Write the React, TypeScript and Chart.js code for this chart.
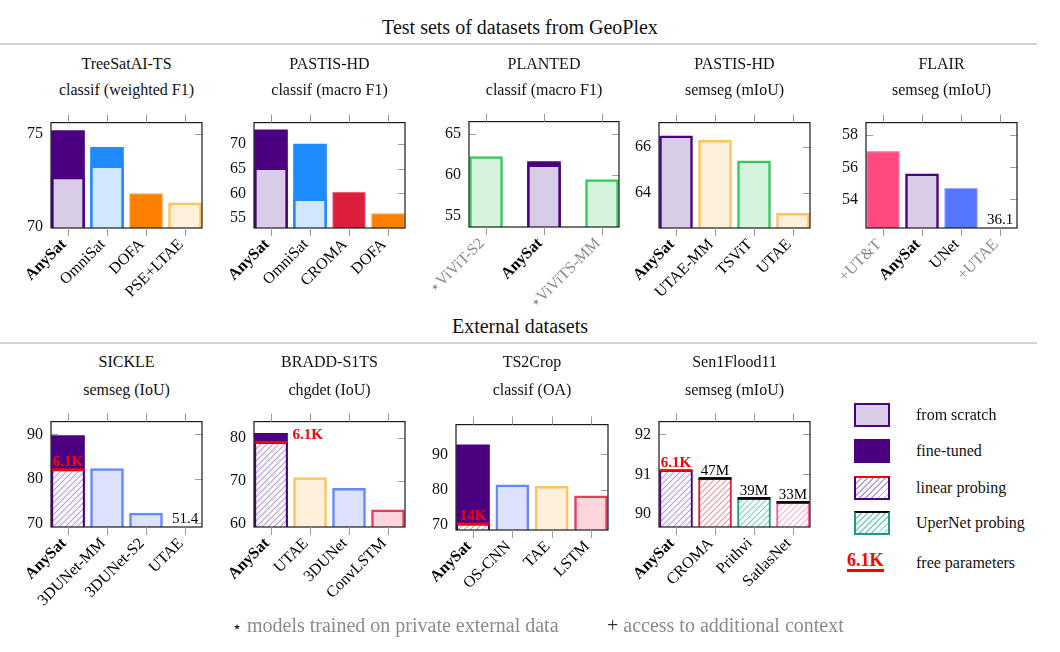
import React, { useEffect, useRef } from 'react';
import { Chart, registerables } from 'chart.js';

Chart.register(...registerables);

const SERIF = '"Liberation Serif", "Times New Roman", Times, serif';

// ---------------- data ----------------
// TreeSatAI-TS  classif (weighted F1)
const treeLabels = ['AnySat', 'OmniSat', 'DOFA', 'PSE+LTAE'];
const treeFineTuned = [75.2, 74.3, null, null];
const treeMain = [72.7, 73.3, 71.8, 71.3];
const treeTicks = [70, 75];
const treeRange = [69.95, 75.63];

// PASTIS-HD  classif (macro F1)
const pastisClsLabels = ['AnySat', 'OmniSat', 'CROMA', 'DOFA'];
const pastisClsFineTuned = [72.9, 70.0, null, null];
const pastisClsMain = [65.2, 58.9, 60.3, 55.9];
const pastisClsTicks = [55, 60, 65, 70];
const pastisClsRange = [53.0, 74.35];

// PLANTED  classif (macro F1)
const plantedLabels = ['⋆ViViT-S2', 'AnySat', '⋆ViViTS-MM'];
const plantedFineTuned = [null, 61.6, null];
const plantedMain = [62.2, 61.2, 59.4];
const plantedTicks = [55, 60, 65];
const plantedRange = [53.57, 66.5];

// PASTIS-HD  semseg (mIoU)
const pastisSegLabels = ['AnySat', 'UTAE-MM', 'TSViT', 'UTAE'];
const pastisSegMain = [66.5, 66.3, 65.4, 63.1];
const pastisSegTicks = [64, 66];
const pastisSegRange = [62.46, 67.08];

// FLAIR  semseg (mIoU)
const flairLabels = ['+UT&T', 'AnySat', 'UNet', '+UTAE'];
const flairMain = [57.0, 55.6, 54.7, 36.1];
const flairTicks = [54, 56, 58];
const flairRange = [52.22, 58.79];

// SICKLE  semseg (IoU)
const sickleLabels = ['AnySat', '3DUNet-MM', '3DUNet-S2', 'UTAE'];
const sickleFineTuned = [89.7, null, null, null];
const sickleMain = [82.1, 82.3, 72.3, 51.4];
const sickleParams = ['6.1K', null, null, null];
const sickleTicks = [70, 80, 90];
const sickleRange = [69.2, 92.85];

// BRADD-S1TS  chgdet (IoU)
const braddLabels = ['AnySat', 'UTAE', '3DUNet', 'ConvLSTM'];
const braddFineTuned = [81.0, null, null, null];
const braddMain = [78.9, 70.7, 68.2, 63.2];
const braddParams = ['6.1K', null, null, null];
const braddTicks = [60, 70, 80];
const braddRange = [59.2, 83.7];

// TS2Crop  classif (OA)
const ts2cropLabels = ['AnySat', 'OS-CNN', 'TAE', 'LSTM'];
const ts2cropFineTuned = [92.7, null, null, null];
const ts2cropMain = [70.4, 81.4, 81.0, 78.3];
const ts2cropParams = ['14K', null, null, null];
const ts2cropTicks = [70, 80, 90];
const ts2cropRange = [68.66, 98.4];

// Sen1Flood11  semseg (mIoU)
const floodLabels = ['AnySat', 'CROMA', 'Prithvi', 'SatlasNet'];
const floodMain = [91.1, 90.9, 90.4, 90.3];
const floodParams = ['6.1K', '47M', '39M', '33M'];
const floodTicks = [90, 91, 92];
const floodRange = [89.68, 92.32];

// ---------------- styles ----------------
const RED = '#FF0000';
const BAR_STYLES: Record<string, any> = {
  anyScratch: { fill: '#D9CCE6', border: '#4B0082', bw: 2.5 },
  anyFine: { fill: '#4B0082', border: '#4B0082', bw: 0 },
  anyLinear: { hatch: '#B69DE0', border: '#4B0082', bw: 2, top: RED },
  omniFine: { fill: '#1E8CFF', border: '#1E8CFF', bw: 0 },
  omniScratch: { fill: '#D1E7FD', border: '#1E8CFF', bw: 2.5 },
  dofa: { fill: '#FF7F00', border: '#FFA64D', bw: 1.2 },
  orangeLight: { fill: '#FFF0DB', border: '#FFC35C', bw: 2.5 },
  croma: { fill: '#DC1E3C', border: '#EA7A8C', bw: 1.2 },
  green: { fill: '#D5F4DC', border: '#35C95C', bw: 2.5 },
  utt: { fill: '#FF4A7E', border: '#FF8FB0', bw: 1.2 },
  unet: { fill: '#5577FF', border: '#99AAFF', bw: 1.2 },
  blueLight: { fill: '#DDE3FF', border: '#6688FF', bw: 2.5 },
  redLight: { fill: '#FFD6DE', border: '#EE3A57', bw: 2.5 },
  cromaLinear: { hatch: '#F596A3', border: '#DC1E3C', bw: 2, top: '#000000' },
  prithvi: { hatch: '#7FD3C6', border: '#1E9A86', bw: 2, top: '#000000' },
  satlas: { hatch: '#FFAFD4', border: '#FF5AA5', bw: 2, top: '#000000' },
};

// ---------------- panel layout ----------------
const ROW1_TITLE = [64, 90];
const ROW2_TITLE = [362, 389.5];

const PANELS = [
  { title: 'TreeSatAI-TS', sub: 'classif (weighted F1)', labels: treeLabels, main: treeMain, fine: treeFineTuned,
    ticks: treeTicks, range: treeRange, mainStyle: ['anyScratch', 'omniScratch', 'dofa', 'orangeLight'],
    fineStyle: ['anyFine', 'omniFine', null, null], box: [51, 117, 202, 228], titleY: ROW1_TITLE },
  { title: 'PASTIS-HD', sub: 'classif (macro F1)', labels: pastisClsLabels, main: pastisClsMain, fine: pastisClsFineTuned,
    ticks: pastisClsTicks, range: pastisClsRange, mainStyle: ['anyScratch', 'omniScratch', 'croma', 'dofa'],
    fineStyle: ['anyFine', 'omniFine', null, null], box: [254, 117, 405, 228], titleY: ROW1_TITLE },
  { title: 'PLANTED', sub: 'classif (macro F1)', labels: plantedLabels, main: plantedMain, fine: plantedFineTuned,
    ticks: plantedTicks, range: plantedRange, mainStyle: ['green', 'anyScratch', 'green'],
    fineStyle: [null, 'anyFine', null], box: [469, 116, 619, 227.3], titleY: ROW1_TITLE },
  { title: 'PASTIS-HD', sub: 'semseg (mIoU)', labels: pastisSegLabels, main: pastisSegMain,
    ticks: pastisSegTicks, range: pastisSegRange, mainStyle: ['anyScratch', 'orangeLight', 'green', 'orangeLight'],
    box: [659, 117.3, 810, 228.3], titleY: ROW1_TITLE },
  { title: 'FLAIR', sub: 'semseg (mIoU)', labels: flairLabels, main: flairMain,
    ticks: flairTicks, range: flairRange, mainStyle: ['utt', 'anyScratch', 'unet', 'orangeLight'],
    box: [866, 116.7, 1017, 227.7], titleY: ROW1_TITLE },
  { title: 'SICKLE', sub: 'semseg (IoU)', labels: sickleLabels, main: sickleMain, fine: sickleFineTuned, params: sickleParams,
    ticks: sickleTicks, range: sickleRange, mainStyle: ['anyLinear', 'blueLight', 'blueLight', 'orangeLight'],
    fineStyle: ['anyFine', null, null, null], box: [51, 416, 202, 526.7], titleY: ROW2_TITLE },
  { title: 'BRADD-S1TS', sub: 'chgdet (IoU)', labels: braddLabels, main: braddMain, fine: braddFineTuned, params: braddParams,
    paramsRight: true, ticks: braddTicks, range: braddRange, mainStyle: ['anyLinear', 'orangeLight', 'blueLight', 'redLight'],
    fineStyle: ['anyFine', null, null, null], box: [254, 416, 405, 526.7], titleY: ROW2_TITLE },
  { title: 'TS2Crop', sub: 'classif (OA)', labels: ts2cropLabels, main: ts2cropMain, fine: ts2cropFineTuned, params: ts2cropParams,
    ticks: ts2cropTicks, range: ts2cropRange, mainStyle: ['anyLinear', 'blueLight', 'orangeLight', 'redLight'],
    fineStyle: ['anyFine', null, null, null], box: [456, 418.7, 608, 529.3], titleY: ROW2_TITLE },
  { title: 'Sen1Flood11', sub: 'semseg (mIoU)', labels: floodLabels, main: floodMain, params: floodParams,
    ticks: floodTicks, range: floodRange, mainStyle: ['anyLinear', 'cromaLinear', 'prithvi', 'satlas'],
    box: [659, 416, 810, 526.7], titleY: ROW2_TITLE },
];

const PAD_L = 55, PAD_T = 12, PAD_R = 14, PAD_B = 92;
const EDGE_PX = 17;
const BAR_PX = 33;

function makeHatch(ctx: CanvasRenderingContext2D, color: string) {
  const c = document.createElement('canvas');
  c.width = 6; c.height = 6;
  const g = c.getContext('2d')!;
  g.fillStyle = '#ffffff';
  g.fillRect(0, 0, 6, 6);
  g.strokeStyle = color;
  g.lineWidth = 1.2;
  g.beginPath();
  g.moveTo(0, 6); g.lineTo(6, 0);
  g.moveTo(-1, 1); g.lineTo(1, -1);
  g.moveTo(5, 7); g.lineTo(7, 5);
  g.stroke();
  return ctx.createPattern(c, 'repeat');
}

function buildConfig(p: any, ctx: CanvasRenderingContext2D) {
  const n = p.labels.length;
  const boxW = p.box[2] - p.box[0];
  const spacing = (boxW - 2 * EDGE_PX) / (n - 1);
  const off = EDGE_PX / spacing;
  const fillOf = (k: string | null) => {
    if (!k) return 'rgba(0,0,0,0)';
    const s = BAR_STYLES[k];
    return s.hatch ? makeHatch(ctx, s.hatch) : s.fill;
  };
  const rows = (vals: any[]) => p.labels.map((_: string, i: number) => ({
    x: i,
    y: vals[i] != null && vals[i] >= p.range[0] ? vals[i] : null,
  }));
  const common = { grouped: false, barThickness: BAR_PX, borderSkipped: false };
  const datasets: any[] = [{
    ...common,
    label: 'main',
    data: rows(p.main),
    backgroundColor: p.mainStyle.map(fillOf),
    borderColor: p.mainStyle.map((k: string) => BAR_STYLES[k].border),
    borderWidth: p.mainStyle.map((k: string) => BAR_STYLES[k].bw),
    order: 1,
  }];
  if (p.fine) {
    datasets.push({
      ...common,
      label: 'fine-tuned',
      data: rows(p.fine),
      backgroundColor: p.fineStyle.map(fillOf),
      borderColor: p.fineStyle.map((k: string | null) => (k ? BAR_STYLES[k].border : 'rgba(0,0,0,0)')),
      borderWidth: p.fineStyle.map((k: string | null) => (k ? BAR_STYLES[k].bw : 0)),
      order: 2,
    });
  }

  const panelPlugin = {
    id: 'panelDecor',
    beforeDatasetsDraw(chart: any) {
      const { ctx: c, chartArea: a, scales } = chart;
      c.save();
      c.strokeStyle = '#a0a0a0';
      c.lineWidth = 1;
      p.ticks.forEach((v: number) => {
        const py = Math.round(scales.y.getPixelForValue(v)) + 0.5;
        c.beginPath();
        c.moveTo(a.left, py); c.lineTo(a.left + 7, py);
        c.moveTo(a.right - 7, py); c.lineTo(a.right, py);
        c.stroke();
      });
      c.restore();
    },
    afterDatasetsDraw(chart: any) {
      const { ctx: c, chartArea: a, scales } = chart;
      const meta = chart.getDatasetMeta(0);
      c.save();
      // top lines of probing bars
      p.mainStyle.forEach((k: string, i: number) => {
        const s = BAR_STYLES[k];
        const el = meta.data[i];
        const v = p.main[i];
        if (s.top && el && v != null && v >= p.range[0]) {
          c.fillStyle = s.top;
          c.fillRect(el.x - el.width / 2, el.y - 1.2, el.width, 2.6);
        }
      });
      // frame
      c.strokeStyle = '#1a1a1a';
      c.lineWidth = 1.2;
      c.strokeRect(a.left, a.top, a.right - a.left, a.bottom - a.top);
      // x ticks
      c.strokeStyle = '#9a9a9a';
      c.lineWidth = 1;
      p.labels.forEach((_: string, i: number) => {
        const x = Math.round(scales.x.getPixelForValue(i)) + 0.5;
        c.beginPath();
        c.moveTo(x, a.top - 8); c.lineTo(x, a.top);
        c.moveTo(x, a.bottom); c.lineTo(x, a.bottom + 8);
        c.stroke();
      });
      // x labels
      p.labels.forEach((lab: string, i: number) => {
        const x = scales.x.getPixelForValue(i);
        const bold = lab === 'AnySat';
        const grey = lab.startsWith('⋆') || lab.startsWith('+');
        c.save();
        c.translate(x - 4, a.bottom + 14);
        c.rotate(-Math.PI / 4);
        c.textAlign = 'right';
        c.textBaseline = 'middle';
        c.font = `${bold ? 'bold ' : ''}16px ${SERIF}`;
        c.fillStyle = grey ? '#868b96' : '#000000';
        c.fillText(lab, 0, 0);
        c.restore();
      });
      // values out of range
      c.font = `15px ${SERIF}`;
      c.fillStyle = '#000000';
      c.textAlign = 'center';
      c.textBaseline = 'alphabetic';
      p.main.forEach((v: number | null, i: number) => {
        if (v != null && v < p.range[0]) {
          c.fillText(String(v), scales.x.getPixelForValue(i), a.bottom - 4);
        }
      });
      // parameter counts
      if (p.params) {
        p.params.forEach((t: string | null, i: number) => {
          if (!t) return;
          const el = meta.data[i];
          const s = BAR_STYLES[p.mainStyle[i]];
          const red = s.top === RED;
          c.font = `${red ? 'bold ' : ''}15px ${SERIF}`;
          c.fillStyle = red ? RED : '#000000';
          c.textBaseline = 'alphabetic';
          if (p.paramsRight) {
            c.textAlign = 'left';
            c.fillText(t, el.x + el.width / 2 + 5, el.y - 3.5);
          } else {
            c.textAlign = 'center';
            c.fillText(t, el.x, el.y - 3.5);
          }
        });
      }
      c.restore();
    },
  };

  return {
    type: 'bar' as const,
    data: { datasets },
    options: {
      responsive: false,
      maintainAspectRatio: false,
      animation: false as const,
      devicePixelRatio: 1,
      events: [],
      layout: { padding: { left: 0, top: PAD_T, right: PAD_R, bottom: PAD_B } },
      plugins: { legend: { display: false }, tooltip: { enabled: false }, title: { display: false } },
      scales: {
        x: {
          type: 'linear' as const,
          display: false,
          min: -off,
          max: n - 1 + off,
          offset: false,
          grid: { display: false },
        },
        y: {
          type: 'linear' as const,
          position: 'left' as const,
          min: p.range[0],
          max: p.range[1],
          grid: { display: false, drawTicks: false },
          border: { display: false },
          ticks: {
            padding: 8,
            color: '#111111',
            font: { family: SERIF, size: 16 },
            autoSkip: false,
          },
          afterBuildTicks: (scale: any) => {
            scale.ticks = p.ticks.map((v: number) => ({ value: v }));
          },
          afterFit: (scale: any) => {
            scale.width = PAD_L;
          },
        },
      },
    },
    plugins: [panelPlugin],
  };
}

function Panel({ p }: { p: any }) {
  const ref = useRef<HTMLCanvasElement | null>(null);
  const [L, T, R, B] = p.box;
  const w = R - L + PAD_L + PAD_R;
  const h = B - T + PAD_T + PAD_B;
  useEffect(() => {
    const canvas = ref.current!;
    const ctx = canvas.getContext('2d')!;
    const chart = new Chart(canvas, buildConfig(p, ctx) as any);
    return () => chart.destroy();
  }, [p]);
  const titleStyle = (cy: number): React.CSSProperties => ({
    position: 'absolute', left: L - 20, width: R - L + 40, top: cy - 10, height: 20,
    lineHeight: '20px', textAlign: 'center', fontSize: 16, whiteSpace: 'nowrap', color: '#111',
  });
  return (
    <>
      <canvas ref={ref} width={Math.round(w)} height={Math.round(h)}
        style={{ position: 'absolute', left: L - PAD_L, top: T - PAD_T, width: Math.round(w), height: Math.round(h) }} />
      <div style={titleStyle(p.titleY[0])}>{p.title}</div>
      <div style={titleStyle(p.titleY[1])}>{p.sub}</div>
    </>
  );
}

const HATCH_CSS = (c: string) => `repeating-linear-gradient(135deg, #fff 0px, #fff 3.2px, ${c} 3.2px, ${c} 4.3px)`;

function Legend() {
  const sw: React.CSSProperties = { position: 'absolute', left: 854, width: 36, height: 24, boxSizing: 'border-box' };
  const txt = (cy: number): React.CSSProperties => ({ position: 'absolute', left: 916, top: cy - 10, lineHeight: '20px', fontSize: 16, whiteSpace: 'nowrap' });
  return (
    <>
      <div style={{ ...sw, top: 403, background: '#D9CCE6', border: '2.5px solid #4B0082' }} />
      <div style={txt(415)}>from scratch</div>
      <div style={{ ...sw, top: 439, background: '#4B0082' }} />
      <div style={txt(451)}>fine-tuned</div>
      <div style={{ ...sw, top: 476, background: HATCH_CSS('#B69DE0'), border: '2px solid #4B0082', borderTop: '2.5px solid #FF0000' }} />
      <div style={txt(488)}>linear probing</div>
      <div style={{ ...sw, top: 511, background: HATCH_CSS('#7FD3C6'), border: '2px solid #1E9A86', borderTop: '2.5px solid #000' }} />
      <div style={txt(523)}>UperNet probing</div>
      <div style={{ position: 'absolute', left: 847, top: 551, lineHeight: '18px', fontSize: 18, fontWeight: 'bold', color: '#FF0000', borderBottom: '3px solid #FF0000', whiteSpace: 'nowrap' }}>6.1K</div>
      <div style={txt(563)}>free parameters</div>
    </>
  );
}

export default function App() {
  return (
    <div style={{ position: 'fixed', left: 0, top: 0, width: 1060, height: 652, background: '#fff', fontFamily: SERIF, color: '#111', overflow: 'hidden' }}>
      <div style={{ position: 'absolute', left: 0, width: 1040, top: 15, lineHeight: '24px', fontSize: 20, textAlign: 'center' }}>Test sets of datasets from GeoPlex</div>
      <div style={{ position: 'absolute', left: 0, width: 1037, top: 43, height: 2, background: '#d2d2d2' }} />
      <div style={{ position: 'absolute', left: 0, width: 1040, top: 314, lineHeight: '24px', fontSize: 20, textAlign: 'center' }}>External datasets</div>
      <div style={{ position: 'absolute', left: 0, width: 1037, top: 342, height: 2, background: '#d2d2d2' }} />
      {PANELS.map((p, i) => <Panel key={i} p={p} />)}
      <Legend />
      <div style={{ position: 'absolute', left: 232, top: 613, lineHeight: '24px', fontSize: 20, color: '#8a8a8a', whiteSpace: 'nowrap' }}>
        <span style={{ color: '#222', fontSize: 16 }}>⋆</span> models trained on private external data
      </div>
      <div style={{ position: 'absolute', left: 607, top: 613, lineHeight: '24px', fontSize: 20, color: '#8a8a8a', whiteSpace: 'nowrap' }}>
        <span style={{ color: '#2a3a2a' }}>+</span> access to additional context
      </div>
    </div>
  );
}
